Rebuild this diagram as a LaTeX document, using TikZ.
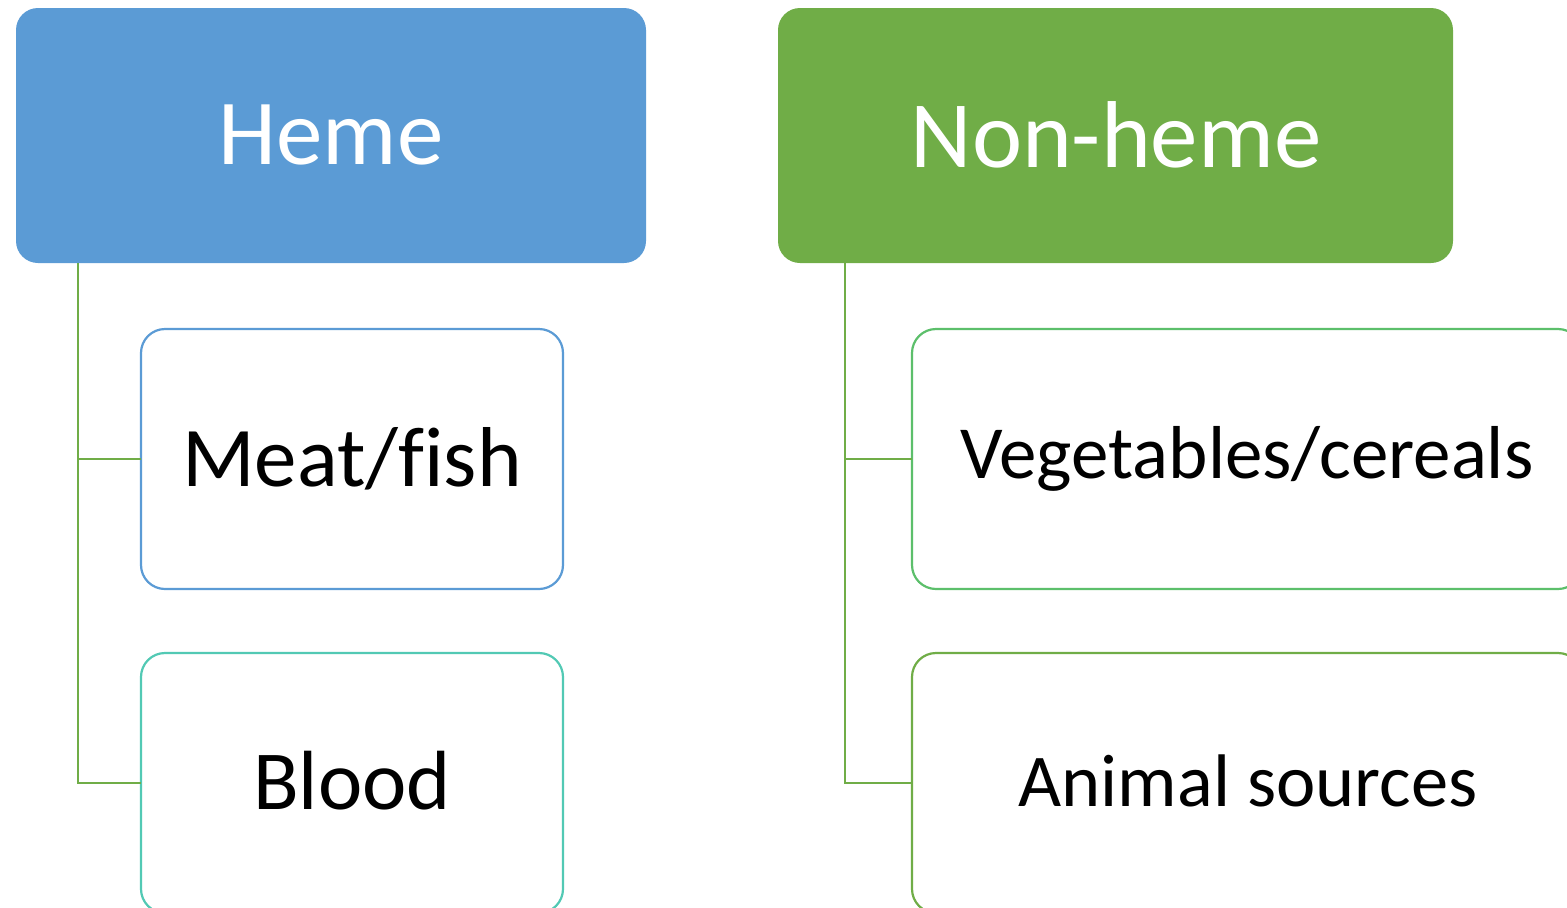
\documentclass[tikz,border=0pt]{standalone}
\usepackage{fontspec}
\setmainfont{Carlito}
\definecolor{hblue}{HTML}{5B9BD5}
\definecolor{hgreen}{HTML}{70AD47}
\definecolor{hteal}{HTML}{52C9B4}
\definecolor{hlgreen}{HTML}{5CBF6B}
\begin{document}
\begin{tikzpicture}[x=1pt,y=-1pt,
  child/.style={rounded corners=24pt, line width=2.2pt, fill=white},
  conn/.style={draw=hgreen, line width=2.2pt}]
\useasboundingbox (0,0) rectangle (1567,908);
\clip (0,0) rectangle (1567,908);
% heads
\fill[hblue, rounded corners=22pt] (16,8) rectangle (646,263);
\node[text=white, font=\fontsize{93}{110}\selectfont] (heme) at (331,135) {Heme};
\fill[hgreen, rounded corners=22pt] (778,8) rectangle (1453,263);
\node[text=white, font=\fontsize{95}{110}\selectfont] (nonheme) at (1116,135) {Non-heme};
% connector anchors
\coordinate (hl) at (78,263);
\coordinate (nl) at (845,263);
% children
\draw[child, draw=hblue] (141,329) rectangle (563,589);
\node[font=\fontsize{85}{100}\selectfont] (meat) at (352,459) {Meat/f\kern0pt ish};
\draw[child, draw=hteal] (141,653) rectangle (563,913);
\node[font=\fontsize{84}{100}\selectfont] (blood) at (352,781) {Blood};
\draw[child, draw=hlgreen] (912,329) rectangle (1582,589);
\node[font=\fontsize{75}{90}\selectfont] (veg) at (1247,459) {Vegetables/cereals};
\draw[child, draw=hgreen] (912,653) rectangle (1582,913);
\node[font=\fontsize{74.5}{90}\selectfont] (animal) at (1248,781) {Animal sources};
\coordinate (meatw) at (141,459);
\coordinate (bloodw) at (141,783);
\coordinate (vegw) at (912,459);
\coordinate (animalw) at (912,783);
% connectors
\draw[conn] (hl) |- (bloodw);
\draw[conn] (hl |- meatw) -- (meatw);
\draw[conn] (nl) |- (animalw);
\draw[conn] (nl |- vegw) -- (vegw);
\end{tikzpicture}
\end{document}
